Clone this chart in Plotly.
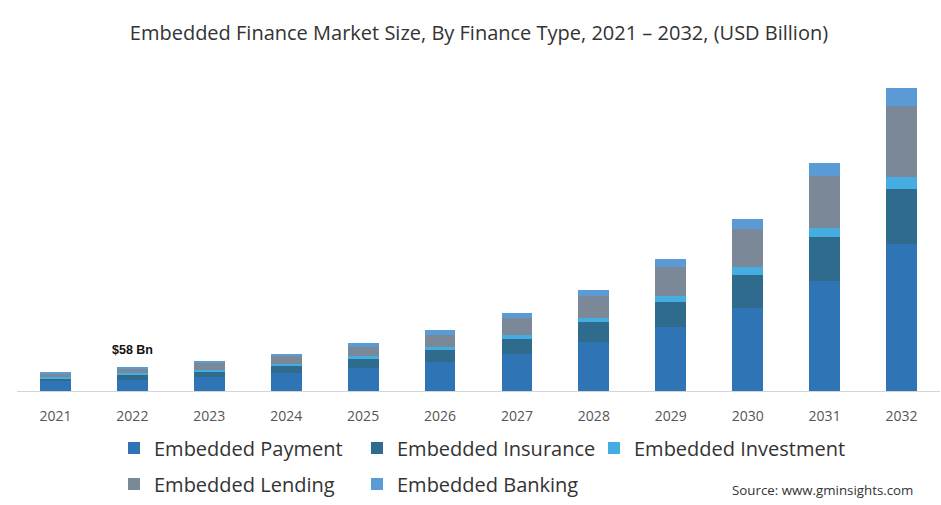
import plotly.graph_objects as go

years = ["2021", "2022", "2023", "2024", "2025", "2026", "2027", "2028", "2029", "2030", "2031", "2032"]

embedded_payment = [23.4, 27.6, 33.8, 43.5, 54.9, 70.1, 90.4, 117.7, 154.7, 200.6, 266.8, 354.6]
embedded_insurance = [7.3, 12.8, 14.5, 17.9, 23.4, 29.0, 36.3, 48.3, 59.7, 80.7, 105.4, 134.6]
embedded_investment = [2.4, 3.1, 3.4, 4.8, 6.3, 6.5, 9.7, 10.4, 14.5, 17.6, 21.0, 27.3]
embedded_lending = [9.7, 11.4, 16.9, 19.3, 21.0, 30.7, 39.4, 52.4, 70.1, 93.5, 125.7, 172.3]
embedded_banking = [1.7, 3.1, 3.9, 4.8, 9.7, 11.1, 13.8, 16.2, 21.0, 24.2, 31.4, 42.8]

series_names = ["Embedded Payment", "Embedded Insurance", "Embedded Investment",
                "Embedded Lending", "Embedded Banking"]
series_values = [embedded_payment, embedded_insurance, embedded_investment,
                 embedded_lending, embedded_banking]
colors = ["#2f74b5", "#2e6b8d", "#45ade2", "#7b8898", "#5a9bd6"]

label_year = "2022"
label_text = "$58 Bn"

# one legend box per entry, laid out as the reference's 3-column grid
legend_ids = ["legend", "legend2", "legend3", "legend4", "legend5"]
legend_left_px = [114, 357, 594, 114, 357]
legend_row_px = [448, 448, 448, 484, 484]

L, T, B = 17, 80, 114
PW, PH = 941 - L - 1, 505 - T - B
base_px = T + PH

fig = go.Figure()
for name, vals, col, lg in zip(series_names, series_values, colors, legend_ids):
    fig.add_trace(go.Bar(
        x=years, y=vals, name=name, legend=lg,
        marker=dict(color=col, line=dict(width=0)),
    ))

totals = [sum(v) for v in zip(*series_values)]
idx = years.index(label_year)

fig.add_annotation(
    x=idx, y=totals[idx], text="<b>" + label_text + "</b>",
    showarrow=False, yanchor="bottom", yshift=8,
    font=dict(family="Liberation Sans, Arial", size=12.5, color="#111111"),
)

fig.add_annotation(
    xref="paper", yref="paper", x=(915 - L) / PW, y=(base_px - 490) / PH,
    text="Source: www.gminsights.com", showarrow=False,
    xanchor="right", yanchor="middle",
    font=dict(family="Open Sans", size=13.3, color="#333333"),
)

legends = {}
for lg, lx, ly in zip(legend_ids, legend_left_px, legend_row_px):
    legends[lg] = dict(
        orientation="h", x=(lx - L) / PW, xanchor="left",
        y=(base_px - ly) / PH, yanchor="middle",
        font=dict(family="Open Sans", size=20, color="#333333"),
        itemwidth=30, bgcolor="rgba(0,0,0,0)",
    )

fig.update_layout(
    width=941, height=505,
    barmode="stack",
    bargap=0.6,
    plot_bgcolor="white",
    paper_bgcolor="white",
    margin=dict(l=L, r=1, t=T, b=B, autoexpand=False),
    title=dict(
        text="Embedded Finance Market Size, By Finance Type, 2021 – 2032, (USD Billion)",
        x=0.509, xanchor="center", y=1 - 33 / 505, yanchor="middle",
        font=dict(family="Open Sans", size=20, color="#333333"),
    ),
    xaxis=dict(
        type="category", range=[-0.5, len(years) - 0.5],
        showline=True, linecolor="#d4d4d4", linewidth=1,
        ticks="", ticklabelstandoff=12,
        tickfont=dict(family="Open Sans", size=14, color="#555555"),
        showgrid=False,
    ),
    yaxis=dict(
        visible=False, range=[0, PH * 58 / 24], showgrid=False,
    ),
    showlegend=True,
    **legends,
)

fig.write_html(
    "out.html",
    config={"displayModeBar": False},
    post_script="document.body.style.margin='0';document.body.style.padding='0';",
)
